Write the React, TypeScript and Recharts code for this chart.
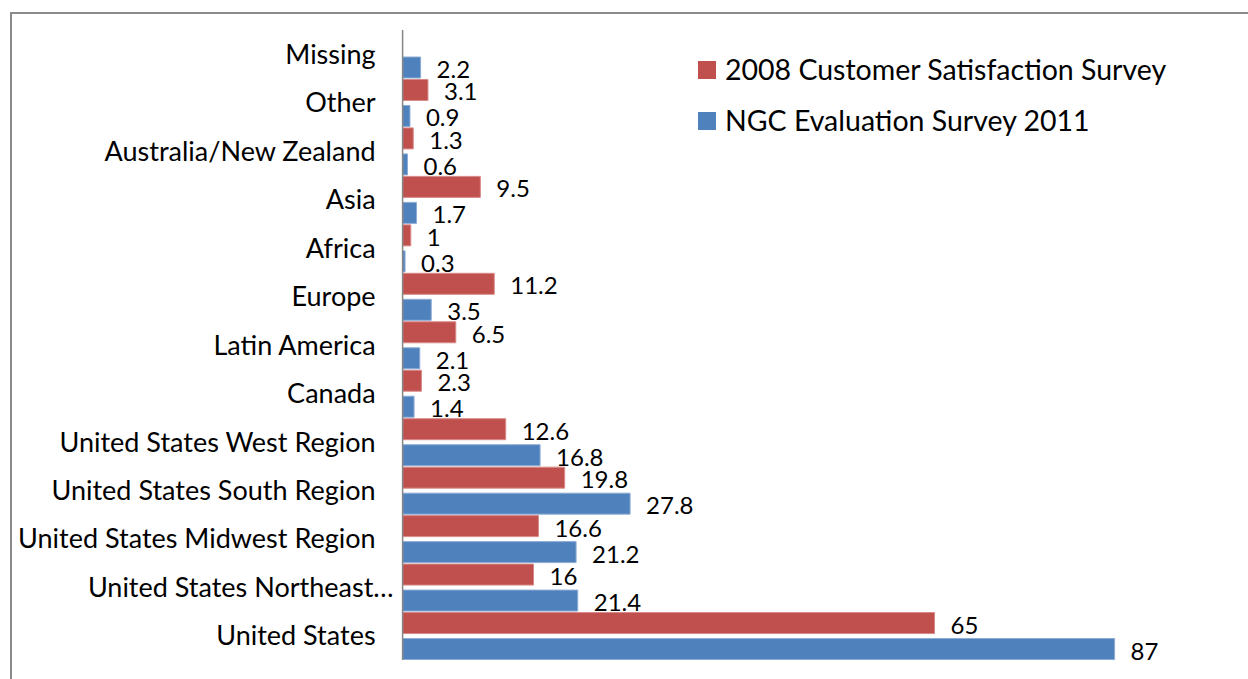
import React from "react";
import { BarChart, Bar, XAxis, YAxis, LabelList } from "recharts";

const categories = [
  "Missing",
  "Other",
  "Australia/New Zealand",
  "Asia",
  "Africa",
  "Europe",
  "Latin America",
  "Canada",
  "United States West Region",
  "United States South Region",
  "United States Midwest Region",
  "United States Northeast…",
  "United States",
];
const survey2008: (number | null)[] = [null, 3.1, 1.3, 9.5, 1, 11.2, 6.5, 2.3, 12.6, 19.8, 16.6, 16, 65];
const survey2011: (number | null)[] = [2.2, 0.9, 0.6, 1.7, 0.3, 3.5, 2.1, 1.4, 16.8, 27.8, 21.2, 21.4, 87];
const seriesNames = ["2008 Customer Satisfaction Survey", "NGC Evaluation Survey 2011"];
const colors = ["#C0504D", "#4F81BD"];
const edgeColors = ["#D88A88", "#8EADD6"];

const data = categories.map((name, i) => ({ name, s2008: survey2008[i], s2011: survey2011[i] }));

const FONT = "Lato, 'Liberation Sans', sans-serif";
const FS = 27;
const LABEL_FS = 24;
const LEGEND_FS = 28.5;

const CategoryTick = (props: any) => {
  const { x, y, payload } = props;
  const value: string = payload.value;
  const shift = value.endsWith("…") ? 18 : 0;
  return (
    <text
      x={x + shift}
      y={y}
      dy="0.355em"
      textAnchor="end"
      fill="#000"
      fontSize={FS}
      fontFamily={FONT}
    >
      {value}
    </text>
  );
};

export default function App() {
  return (
    <div style={{ position: "fixed", left: 0, top: 0, width: 1248, height: 679, overflow: "hidden", background: "#fff" }}>
      <div
        style={{
          position: "absolute",
          left: 10,
          top: 12,
          width: 1400,
          height: 800,
          borderTop: "2px solid #8a8a8a",
          borderLeft: "2px solid #8a8a8a",
        }}
      />
      <div style={{ position: "absolute", left: 0, top: 0 }}>
        <BarChart
          width={1248}
          height={679}
          data={data}
          layout="vertical"
          margin={{ top: 30, right: 27, bottom: 19, left: 0 }}
          barSize={21}
          barGap={5}
          barCategoryGap={0}
        >
          <XAxis type="number" domain={[0, 100]} hide />
          <YAxis
            type="category"
            dataKey="name"
            width={402.6}
            interval={0}
            tickLine={false}
            tickSize={0}
            tickMargin={27}
            axisLine={{ stroke: "#868686", strokeWidth: 1.5 }}
            tick={<CategoryTick />}
          />
          <Bar dataKey="s2008" name={seriesNames[0]} fill={colors[0]} stroke={edgeColors[0]} strokeWidth={1} isAnimationActive={false}>
            <LabelList dataKey="s2008" position="right" offset={16} dy={2} fill="#000" fontSize={LABEL_FS} fontFamily={FONT} />
          </Bar>
          <Bar dataKey="s2011" name={seriesNames[1]} fill={colors[1]} stroke={edgeColors[1]} strokeWidth={1} isAnimationActive={false}>
            <LabelList dataKey="s2011" position="right" offset={16} dy={2} fill="#000" fontSize={LABEL_FS} fontFamily={FONT} />
          </Bar>
        </BarChart>
      </div>
      <div style={{ position: "absolute", left: 698, top: 44, fontFamily: FONT, fontSize: LEGEND_FS, color: "#000" }}>
        {seriesNames.map((n, i) => (
          <div key={n} style={{ display: "flex", alignItems: "center", height: 51 }}>
            <div style={{ width: 18, height: 18, background: colors[i], marginRight: 9, flexShrink: 0 }} />
            <span style={{ whiteSpace: "nowrap", lineHeight: "51px" }}>{n}</span>
          </div>
        ))}
      </div>
    </div>
  );
}
